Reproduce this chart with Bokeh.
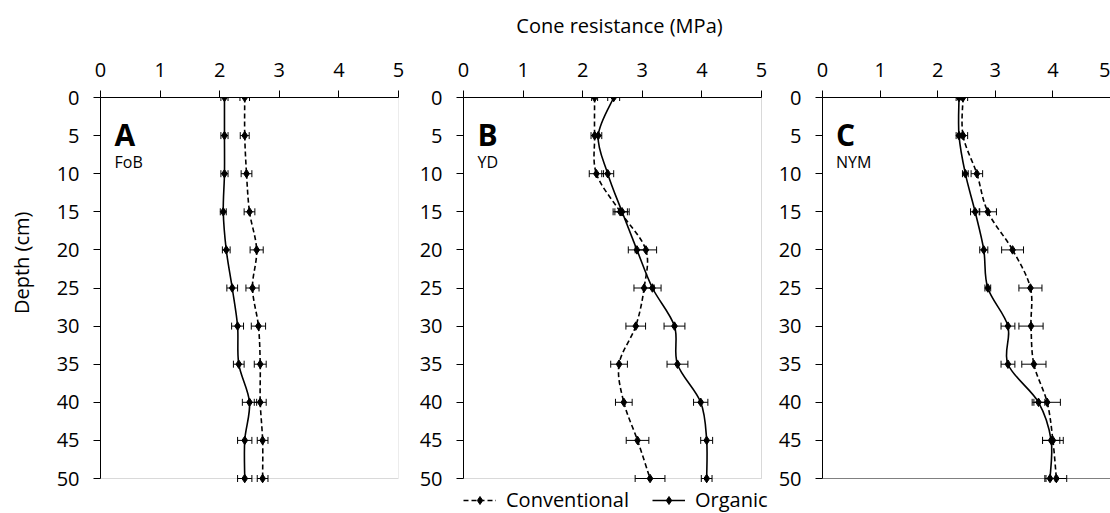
import numpy as np
from bokeh.plotting import figure
from bokeh.layouts import row
from bokeh.models import (Range1d, FixedTicker, Whisker, TeeHead, Span,
                          ColumnDataSource, Label, Legend, LegendItem, BoxAnnotation)
from bokeh.embed import file_html
from bokeh.resources import INLINE

# ---------------- data ----------------
depth = [0, 5, 10, 15, 20, 25, 30, 35, 40, 45, 50]
x_ticks = [0, 1, 2, 3, 4, 5]
panel_letters = ["A", "B", "C"]
site_names = ["FoB", "YD", "NYM"]
x_title = "Cone resistance (MPa)"
y_title = "Depth (cm)"
series_names = ["Conventional", "Organic"]

fob_conv = [2.42, 2.42, 2.45, 2.50, 2.62, 2.55, 2.65, 2.68, 2.68, 2.72, 2.72]
fob_conv_err = [0.08, 0.075, 0.09, 0.09, 0.11, 0.11, 0.12, 0.10, 0.10, 0.09, 0.09]
fob_org = [2.08, 2.08, 2.08, 2.06, 2.11, 2.21, 2.30, 2.32, 2.50, 2.42, 2.42]
fob_org_err = [0.06, 0.06, 0.06, 0.05, 0.065, 0.09, 0.10, 0.09, 0.12, 0.12, 0.12]

yd_conv = [2.20, 2.20, 2.23, 2.63, 3.06, 3.03, 2.89, 2.61, 2.69, 2.92, 3.13]
yd_conv_err = [0.05, 0.06, 0.12, 0.12, 0.18, 0.17, 0.165, 0.14, 0.14, 0.19, 0.25]
yd_org = [2.52, 2.26, 2.42, 2.66, 2.91, 3.17, 3.54, 3.59, 3.98, 4.08, 4.08]
yd_org_err = [0.10, 0.06, 0.10, 0.12, 0.145, 0.145, 0.175, 0.175, 0.12, 0.10, 0.09]

nym_conv = [2.44, 2.44, 2.68, 2.87, 3.30, 3.61, 3.62, 3.67, 3.90, 4.00, 4.06]
nym_conv_err = [0.08, 0.08, 0.10, 0.15, 0.19, 0.20, 0.21, 0.21, 0.23, 0.18, 0.18]
nym_org = [2.37, 2.37, 2.48, 2.65, 2.80, 2.87, 3.22, 3.22, 3.75, 3.97, 3.95]
nym_org_err = [0.05, 0.05, 0.05, 0.08, 0.07, 0.05, 0.12, 0.12, 0.11, 0.15, 0.09]

FONT = "Open Sans"
TXT = "#000000"
FRAME_GRAY = "#808080"
H = 513
TOP = 97
PLOT_H = 381            # pixel height of the 0-50 cm depth range
DEPTH_MAX = 50
X_MAX = 5
YMAX = DEPTH_MAX * (H - TOP) / PLOT_H   # frames reach the page bottom


def smooth_source(xs, ys):
    """Bezier control points (Catmull-Rom style, as Excel's smoothed line)."""
    xs = np.asarray(xs, float)
    ys = np.asarray(ys, float)
    n = len(xs)
    d = dict(x0=[], y0=[], x1=[], y1=[], cx0=[], cy0=[], cx1=[], cy1=[])
    for i in range(n - 1):
        a = max(i - 1, 0)
        b = min(i + 2, n - 1)
        d["x0"].append(xs[i]); d["y0"].append(ys[i])
        d["x1"].append(xs[i + 1]); d["y1"].append(ys[i + 1])
        d["cx0"].append(xs[i] + (xs[i + 1] - xs[a]) / 6)
        d["cy0"].append(ys[i] + (ys[i + 1] - ys[a]) / 6)
        d["cx1"].append(xs[i + 1] - (xs[b] - xs[i]) / 6)
        d["cy1"].append(ys[i + 1] - (ys[b] - ys[i]) / 6)
    return ColumnDataSource(d)


def make_panel(conv, conv_err, org, org_err, idx, width, left, right,
               box_px=298, right_edge=True, top_title=False, legend=False):
    frame_px = width - left - right
    xend = X_MAX * frame_px / box_px
    p = figure(width=width, height=H, output_backend="svg", toolbar_location=None,
               x_range=Range1d(0, xend), y_range=Range1d(YMAX, 0),
               x_axis_location="above",
               min_border_left=left, min_border_right=right,
               min_border_top=TOP, min_border_bottom=0)
    p.grid.visible = False
    p.background_fill_color = "white"
    p.border_fill_color = "white"
    p.outline_line_color = None

    for ax in (p.xaxis[0], p.yaxis[0]):
        ax.axis_line_color = "black"
        ax.axis_line_width = 1
        ax.major_tick_line_color = "black"
        ax.major_tick_in = 0
        ax.major_tick_out = 7
        ax.minor_tick_line_color = None
        ax.major_label_text_font = FONT
        ax.major_label_text_font_size = "20px"
        ax.major_label_text_color = TXT
    p.xaxis[0].ticker = FixedTicker(ticks=x_ticks)
    p.yaxis[0].ticker = FixedTicker(ticks=depth)
    p.xaxis[0].bounds = (0, X_MAX)
    p.yaxis[0].bounds = (0, DEPTH_MAX)
    p.xaxis[0].major_label_standoff = 14
    p.yaxis[0].major_label_standoff = 14

    if top_title:
        p.xaxis[0].axis_label = x_title
        p.xaxis[0].axis_label_text_font = FONT
        p.xaxis[0].axis_label_text_font_size = "20px"
        p.xaxis[0].axis_label_text_font_style = "normal"
        p.xaxis[0].axis_label_text_color = TXT
        p.xaxis[0].axis_label_standoff = 21

    # plot-area border (grey), bottom + right
    if right_edge:
        p.add_layout(BoxAnnotation(left=0, right=X_MAX, top=0, bottom=DEPTH_MAX,
                                   fill_color=None, fill_alpha=0,
                                   line_color=FRAME_GRAY, line_width=1,
                                   level="underlay"))
    else:
        p.add_layout(Span(location=DEPTH_MAX, dimension="width",
                          line_color=FRAME_GRAY, line_width=1, level="underlay"))

    # error bars
    for vals, errs in ((conv, conv_err), (org, org_err)):
        src = ColumnDataSource(dict(base=depth,
                                    lower=[v - e for v, e in zip(vals, errs)],
                                    upper=[v + e for v, e in zip(vals, errs)]))
        w = Whisker(source=src, base="base", lower="lower", upper="upper",
                    dimension="width", line_color="black", line_width=1,
                    upper_head=TeeHead(size=7, line_color="black", line_width=1),
                    lower_head=TeeHead(size=7, line_color="black", line_width=1))
        p.add_layout(w)

    rconv = p.bezier(x0="x0", y0="y0", x1="x1", y1="y1", cx0="cx0", cy0="cy0",
                     cx1="cx1", cy1="cy1", source=smooth_source(conv, depth),
                     line_color="black", line_width=1.6, line_dash="5 3")
    rorg = p.bezier(x0="x0", y0="y0", x1="x1", y1="y1", cx0="cx0", cy0="cy0",
                    cx1="cx1", cy1="cy1", source=smooth_source(org, depth),
                    line_color="black", line_width=1.6)
    sconv = p.scatter(x=conv, y=depth, marker="diamond", size=8.5,
                      fill_color="black", line_color="black")
    sorg = p.scatter(x=org, y=depth, marker="diamond", size=8.5,
                     fill_color="black", line_color="black")

    p.add_layout(Label(x=0.235, y=4.86, text=panel_letters[idx], text_font=FONT,
                       text_font_size="30px", text_font_style="bold", text_color=TXT,
                       text_baseline="alphabetic", text_align="left"))
    p.add_layout(Label(x=0.235, y=8.4, text=site_names[idx], text_font=FONT,
                       text_font_size="16px", text_color=TXT,
                       text_baseline="alphabetic", text_align="left"))

    if legend:
        lg = Legend(items=[LegendItem(label=series_names[0], renderers=[rconv, sconv]),
                           LegendItem(label=series_names[1], renderers=[rorg, sorg])],
                    location=(0, 0), orientation="horizontal",
                    label_text_font=FONT, label_text_font_size="20px",
                    label_text_color=TXT, glyph_width=33, glyph_height=20,
                    label_standoff=10, spacing=23, padding=0, margin=0,
                    border_line_color=None, background_fill_color=None,
                    background_fill_alpha=0)
        p.add_layout(lg)
    return p


# narrow strip holding the rotated y-axis title (frame aligned with the panels)
LW = 40
py = figure(width=LW, height=H, output_backend="svg", toolbar_location=None,
            x_range=Range1d(0, LW), y_range=Range1d(YMAX, 0),
            min_border_left=0, min_border_right=0, min_border_top=TOP,
            min_border_bottom=0)
py.axis.visible = False
py.grid.visible = False
py.outline_line_color = None
py.add_layout(Label(x=21, y=21.7, text=y_title, text_font=FONT, text_font_size="20px",
                    text_color=TXT, angle=np.pi / 2, text_align="center",
                    text_baseline="middle"))

pa = make_panel(fob_conv, fob_conv_err, fob_org, fob_org_err, 0,
                410 - LW, 100 - LW, 12)
pb = make_panel(yd_conv, yd_conv_err, yd_org, yd_org_err, 1,
                365, 53, 0, top_title=True, legend=True)
pc = make_panel(nym_conv, nym_conv_err, nym_org, nym_org_err, 2,
                335, 46, 0, box_px=289, right_edge=False)

layout = row(py, pa, pb, pc)
open("out.html", "w").write(file_html(layout, INLINE))
